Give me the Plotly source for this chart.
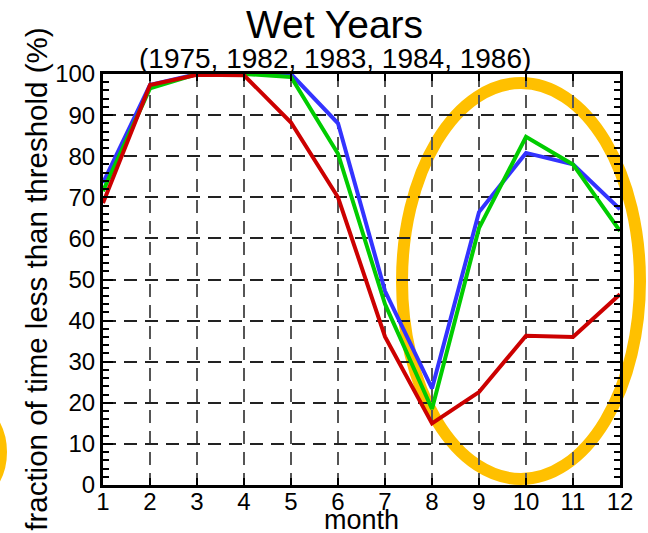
import plotly.graph_objects as go

months = [1, 2, 3, 4, 5, 6, 7, 8, 9, 10, 11, 12]
blue_vals = [73.5, 97.3, 100, 100, 100, 88.0, 47.2, 23.5, 66.4, 80.8, 78.0, 67.1]
green_vals = [71.5, 96.5, 100, 100, 99.3, 80.6, 44.0, 18.5, 62.5, 84.7, 78.0, 61.8]
red_vals = [68.6, 97.3, 99.8, 99.7, 88.2, 70.0, 36.1, 15.0, 22.6, 36.3, 36.0, 46.4]
series_names = ["blue", "green", "red"]
series_colors = ["#3333FF", "#00CC00", "#CC0000"]
x_ticks = months
y_ticks = [0, 10, 20, 30, 40, 50, 60, 70, 80, 90, 100]

title_text = "Wet Years"
subtitle_text = "(1975, 1982, 1983, 1984, 1986)"
xlabel = "month"
ylabel = "fraction of time less than threshold (%)"

FONT = "Liberation Sans, Arial, sans-serif"

fig = go.Figure()
for name, vals, col in zip(series_names, [blue_vals, green_vals, red_vals], series_colors):
    fig.add_trace(go.Scatter(x=months, y=vals, mode="lines", name=name,
                             line=dict(color=col, width=4), showlegend=False))

# plot area in pixels: x 103..620, y 74..485
L, R, T, B = 103, 28, 74, 48
W, H = 648, 533
pw, ph = W - L - R, H - T - B

def px(xp):
    return (xp - L) / pw

def py(yp):
    return (H - B - yp) / ph

shapes = [
    dict(type="circle", xref="paper", yref="paper",
         x0=px(402), x1=px(640), y0=py(479), y1=py(83),
         line=dict(color="#FFC000", width=12), layer="below"),
    dict(type="circle", xref="paper", yref="paper",
         x0=px(-101), x1=px(1), y0=py(507), y1=py(397),
         line=dict(color="#FFC000", width=12), layer="below"),
]

annotations = [
    dict(text=title_text, x=px(334), y=py(24.3), xref="paper", yref="paper",
         showarrow=False, xanchor="center", yanchor="middle",
         font=dict(family=FONT, size=39, color="black")),
    dict(text=subtitle_text, x=px(335), y=py(58.2), xref="paper", yref="paper",
         showarrow=False, xanchor="center", yanchor="middle",
         font=dict(family=FONT, size=28, color="black")),
    dict(text=xlabel, x=0.5, y=py(520), xref="paper", yref="paper",
         showarrow=False, xanchor="center", yanchor="middle",
         font=dict(family=FONT, size=27, color="black")),
    dict(text=ylabel, x=px(35.8), y=py(279), xref="paper", yref="paper",
         showarrow=False, xanchor="center", yanchor="middle", textangle=-90,
         font=dict(family=FONT, size=29.5, color="black")),
]

fig.update_layout(
    width=W, height=H,
    margin=dict(l=L, r=R, t=T, b=B, pad=0),
    paper_bgcolor="white",
    plot_bgcolor="rgba(0,0,0,0)",
    font=dict(family=FONT, size=24, color="black"),
    shapes=shapes,
    annotations=annotations,
    showlegend=False,
)

fig.update_xaxes(
    range=[1, 12], tickvals=x_ticks, ticktext=[str(v) for v in x_ticks],
    ticks="inside", ticklen=7, tickwidth=1.5, tickcolor="black",
    showline=True, linecolor="black", linewidth=3, mirror="ticks",
    showgrid=True, gridcolor="#555555", gridwidth=1.5, griddash="13px,8px",
    zeroline=False, tickfont=dict(size=24, family=FONT), ticklabelstandoff=-7,
)
fig.update_yaxes(
    range=[0, 100], tickvals=y_ticks, ticktext=[str(v) for v in y_ticks],
    ticks="inside", ticklen=10, tickwidth=2, tickcolor="black",
    minor=dict(dtick=2, ticks="inside", ticklen=6, tickwidth=1.5, tickcolor="black", showgrid=False),
    showline=True, linecolor="black", linewidth=3, mirror="ticks",
    showgrid=True, gridcolor="#222222", gridwidth=1.5, griddash="13px,8px",
    zeroline=False, tickfont=dict(size=24, family=FONT),
)

fig.write_html("out.html", config={"displayModeBar": False},
               post_script="document.body.style.margin='0px';document.body.style.overflow='hidden';")
